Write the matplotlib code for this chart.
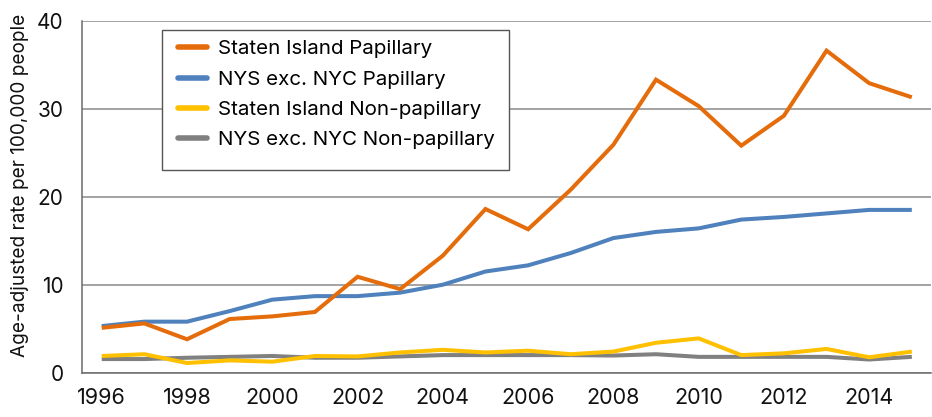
import matplotlib
matplotlib.use("Agg")
import matplotlib.pyplot as plt
from matplotlib.patches import Rectangle

years = list(range(1996, 2016))
si_papillary = [5.1, 5.6, 3.8, 6.1, 6.4, 6.9, 10.9, 9.5, 13.3, 18.6,
                16.3, 20.8, 25.9, 33.3, 30.3, 25.8, 29.2, 36.6, 32.9, 31.3]
nys_papillary = [5.3, 5.8, 5.8, 7.0, 8.3, 8.7, 8.7, 9.1, 10.0, 11.5,
                 12.2, 13.6, 15.3, 16.0, 16.4, 17.4, 17.7, 18.1, 18.5, 18.5]
si_nonpap = [1.9, 2.1, 1.1, 1.4, 1.25, 1.9, 1.85, 2.3, 2.6, 2.3,
             2.5, 2.1, 2.4, 3.4, 3.9, 2.0, 2.2, 2.7, 1.75, 2.4]
nys_nonpap = [1.55, 1.55, 1.7, 1.8, 1.9, 1.7, 1.7, 1.85, 2.0, 2.0,
              2.0, 2.0, 1.95, 2.1, 1.8, 1.8, 1.8, 1.8, 1.5, 1.8]
series_names = ["Staten Island Papillary", "NYS exc. NYC Papillary",
                "Staten Island Non-papillary", "NYS exc. NYC Non-papillary"]
x_ticks = [1996, 1998, 2000, 2002, 2004, 2006, 2008, 2010, 2012, 2014]
y_ticks = [0, 10, 20, 30, 40]
y_label = "Age-adjusted rate per 100,000 people"

plt.rcParams['font.family'] = ['Inter', 'DejaVu Sans']

W, H = 932, 417
fig = plt.figure(figsize=(W / 100, H / 100), dpi=100)
ax = fig.add_axes([81.7 / W, 1 - 372.7 / H, (931 - 81.7) / W, (372.7 - 20.7) / H])

colors = ["#E46C0A", "#4F81BD", "#FFC000", "#808080"]
data = [si_papillary, nys_papillary, si_nonpap, nys_nonpap]
zorders = [6, 5, 4, 3]
handles = []
for d, c, n, z in zip(data, colors, series_names, zorders):
    h, = ax.plot(years, d, color=c, lw=2.9, label=n, zorder=z,
                 solid_joinstyle='miter', solid_capstyle='butt')
    handles.append(h)

ax.set_xlim(1995.53, 2015.45)
ax.set_ylim(0, 40)
ax.set_xticks(x_ticks)
ax.set_xticklabels([str(t) for t in x_ticks])
ax.set_yticks(y_ticks)
ax.set_yticklabels([str(t) for t in y_ticks])
ax.tick_params(axis='both', length=0, colors='#111111')
ax.tick_params(axis='x', pad=11, labelsize=15.5)
ax.tick_params(axis='y', pad=13, labelsize=15)
ax.grid(axis='y', color='#8a8a8a', lw=1.1, zorder=0)
ax.set_axisbelow(True)
for s in ['top', 'right']:
    ax.spines[s].set_visible(False)
for s in ['left', 'bottom']:
    ax.spines[s].set_color('#6b6b6b')
    ax.spines[s].set_linewidth(1.1)

fig.text(20 / W, 1 - 185 / H, y_label, rotation=90, ha='center', va='center',
         fontsize=13.7, color='#111111')

# legend box
rect = Rectangle((162.3 / W, 1 - 170 / H), (509.3 - 162.3) / W, (170 - 30) / H,
                 transform=fig.transFigure, facecolor='white', edgecolor='#555555',
                 lw=1.0, zorder=10)
fig.patches.append(rect)
leg = fig.legend(handles=handles, loc='upper left',
                 bbox_to_anchor=(178 / W, 1 - 40 / H), frameon=False,
                 fontsize=14.8, handlelength=1.4, handletextpad=0.55,
                 labelspacing=0.58, borderaxespad=0, borderpad=0)
leg.set_zorder(11)
for line in leg.get_lines():
    line.set_linewidth(4)
    line.set_solid_capstyle('round')

fig.savefig("out.png", dpi=100)
